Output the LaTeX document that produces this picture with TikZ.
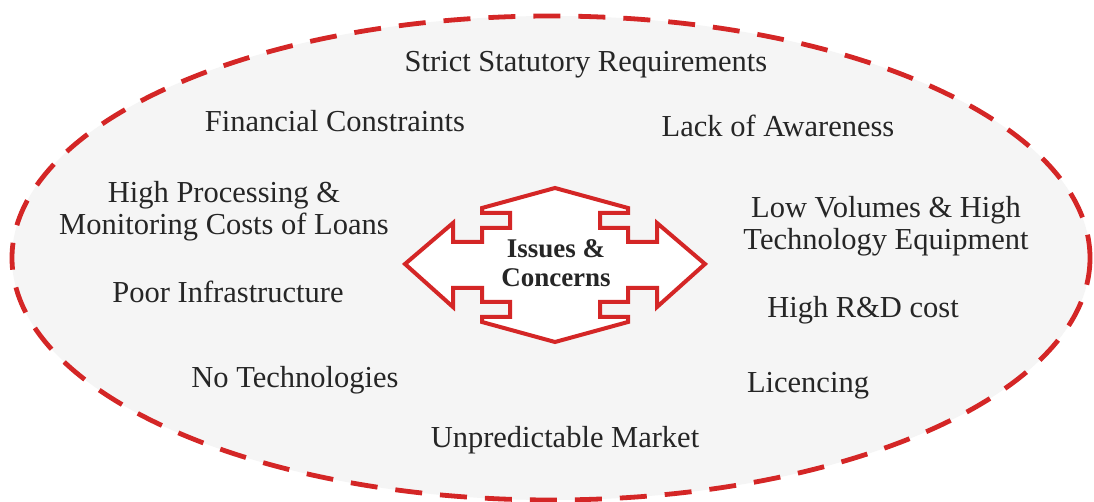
\documentclass[tikz,border=0pt]{standalone}
\usepackage{fontspec}
\setmainfont{Liberation Serif}
\definecolor{issuered}{RGB}{212,38,38}
\definecolor{ovalgray}{RGB}{245,245,245}

\begin{document}
\begin{tikzpicture}[x=0.5pt,y=-0.5pt,
  issue/.style = {anchor=base,align=center,inner sep=0pt,text=black!85,font=\fontsize{15.25}{16}\selectfont},
  hub/.style = {draw=issuered,line width=2pt,fill=white,line join=miter}]
\useasboundingbox[fill=white] (0,0) rectangle (1094,502);
\draw[draw=issuered,line width=2.4pt,dash pattern=on 13.5pt off 9pt,fill=ovalgray] (551,258) ellipse [x radius=539,y radius=242];
% four way arrow in the middle
\begin{scope}[shift={(555,265)}]
\draw[hub] (0,-77) -- (73,-57) -- (73,-52) -- (45,-52) -- (45,-37) -- (73,-37) -- (73,-23) -- (102,-23) -- (102,-42)
  -- (150,-1) -- (102,42) -- (102,23) -- (73,23) -- (73,37) -- (45,37) -- (45,52) -- (73,52) -- (73,57)
  -- (0,77) -- (-73,57) -- (-73,52) -- (-45,52) -- (-45,37) -- (-73,37) -- (-73,23) -- (-102,23) -- (-102,42)
  -- (-150,-1) -- (-102,-42) -- (-102,-23) -- (-73,-23) -- (-73,-37) -- (-45,-37) -- (-45,-52) -- (-73,-52) -- (-73,-57) -- cycle;
\end{scope}
% base of a two line node is the base of its last line
\node[issue,font=\fontsize{13.5}{14.5}\selectfont\bfseries] (hub) at (556,287) {Issues \&\\Concerns};
\foreach \x/\y/\t [count=\k from 1] in {586/72/{Strict Statutory Requirements}, 335/132/{Financial Constraints},
    778/137/{Lack of Awareness}, 224/235/{High Processing \&\\Monitoring Costs of Loans},
    886/250/{Low Volumes \& High\\Technology Equipment}, 228/303/{Poor Infrastructure},
    863/318/{High R\&D cost}, 295/388/{No Technologies}, 808/393/{Licencing}, 565/448/{Unpredictable Market}}
    \node[issue] (issue\k) at (\x,\y) {\t};
\end{tikzpicture}
\end{document}
